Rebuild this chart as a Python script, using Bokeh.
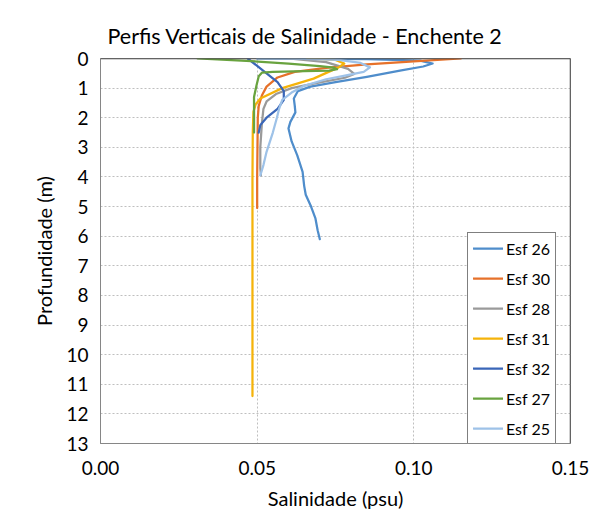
from bokeh.plotting import figure
from bokeh.models import Range1d, FixedTicker, PrintfTickFormatter, Legend, LegendItem, Span
from bokeh.embed import file_html
from bokeh.resources import INLINE

# ---- data (salinity psu, depth m) ----
series_names = ["Esf 26", "Esf 30", "Esf 28", "Esf 31", "Esf 32", "Esf 27", "Esf 25"]
series_colors = ["#4F8DCB", "#E6712A", "#9A9A9A", "#F5B30A", "#3A66B8", "#69A33F", "#9EC2E8"]

esf26_sal = [0.050, 0.085, 0.102, 0.106, 0.103, 0.096, 0.085, 0.075, 0.067, 0.063, 0.0617, 0.062,
             0.0622, 0.0606, 0.0600, 0.0610, 0.0628, 0.0645, 0.0650, 0.0655, 0.0672, 0.0686, 0.0693, 0.0700]
esf26_dep = [0.00, 0.02, 0.07, 0.17, 0.27, 0.40, 0.62, 0.80, 0.95, 1.10, 1.35, 1.60,
             1.82, 2.14, 2.36, 2.80, 3.27, 3.83, 4.30, 4.60, 5.00, 5.40, 5.80, 6.10]

esf30_sal = [0.115, 0.100, 0.085, 0.072, 0.062, 0.0565, 0.053, 0.0515, 0.0505, 0.0502, 0.0501, 0.0500, 0.0500]
esf30_dep = [0.00, 0.10, 0.20, 0.32, 0.45, 0.64, 0.95, 1.25, 1.60, 2.00, 3.00, 4.00, 5.05]

esf28_sal = [0.060, 0.072, 0.079, 0.081, 0.078, 0.068, 0.061, 0.056, 0.053, 0.052, 0.0515, 0.0510, 0.0510, 0.0512]
esf28_dep = [0.00, 0.12, 0.35, 0.52, 0.65, 0.85, 1.00, 1.20, 1.45, 1.70, 2.20, 3.00, 3.70, 3.95]

esf31_sal = [0.066, 0.075, 0.0778, 0.076, 0.068, 0.058, 0.051, 0.0495, 0.0488, 0.0486, 0.0485, 0.0485, 0.0485, 0.0485, 0.0485]
esf31_dep = [0.00, 0.05, 0.17, 0.30, 0.68, 1.00, 1.35, 1.55, 1.80, 2.50, 4.00, 6.00, 8.00, 10.00, 11.40]

esf32_sal = [0.047, 0.050, 0.053, 0.0565, 0.0585, 0.0585, 0.0565, 0.053, 0.051, 0.0505]
esf32_dep = [0.00, 0.25, 0.50, 0.80, 1.10, 1.40, 1.70, 2.00, 2.25, 2.50]

esf27_sal = [0.031, 0.045, 0.060, 0.070, 0.0745, 0.0755, 0.073, 0.065, 0.055, 0.0515, 0.0505, 0.0498, 0.0490, 0.0490, 0.0490]
esf27_dep = [0.00, 0.07, 0.17, 0.26, 0.31, 0.36, 0.41, 0.43, 0.45, 0.48, 0.60, 0.90, 1.30, 1.80, 2.50]

esf25_sal = [0.050, 0.065, 0.076, 0.083, 0.086, 0.084, 0.078, 0.072, 0.065, 0.061, 0.058, 0.057, 0.0563, 0.055, 0.053, 0.052, 0.051]
esf25_dep = [0.00, 0.01, 0.05, 0.15, 0.30, 0.45, 0.58, 0.70, 0.92, 1.15, 1.40, 1.70, 2.00, 2.50, 3.15, 3.60, 3.95]

series_sal = [esf26_sal, esf30_sal, esf28_sal, esf31_sal, esf32_sal, esf27_sal, esf25_sal]
series_dep = [esf26_dep, esf30_dep, esf28_dep, esf31_dep, esf32_dep, esf27_dep, esf25_dep]

x_ticks = [0.0, 0.05, 0.10, 0.15]
y_ticks = list(range(0, 14))

FONT = "Lato"

W, H = 596, 512
p = figure(width=W, height=H, output_backend="svg", toolbar_location=None,
           x_range=Range1d(0, 0.15), y_range=Range1d(13, 0),
           min_border_left=100, min_border_right=W - 570, min_border_top=58, min_border_bottom=H - 444)

p.title.text = "Perfis Verticais de Salinidade - Enchente 2"
p.title.text_font = FONT
p.title.text_font_size = "21.5px"
p.title.text_font_style = "normal"
p.title.text_color = "#000000"
p.title.align = "left"
p.title.offset = 7
p.title.standoff = 20

p.background_fill_color = "white"
p.border_fill_color = "white"
p.outline_line_color = "#868686"
p.outline_line_width = 1

# axes
p.xaxis.ticker = FixedTicker(ticks=x_ticks)
p.xaxis.formatter = PrintfTickFormatter(format="%.2f")
p.yaxis.ticker = FixedTicker(ticks=y_ticks)
for ax in (p.xaxis[0], p.yaxis[0]):
    ax.major_tick_line_color = None
    ax.minor_tick_line_color = None
    ax.major_tick_out = 0
    ax.major_tick_in = 0
    ax.axis_line_color = "#868686"
    ax.major_label_text_font = FONT
    ax.major_label_text_font_size = "19px"
    ax.major_label_text_color = "#000000"
    ax.axis_label_text_font = FONT
    ax.axis_label_text_font_size = "20px"
    ax.axis_label_text_font_style = "normal"
    ax.axis_label_text_color = "#000000"

p.xaxis.axis_label = "Salinidade (psu)"
p.xaxis.major_label_standoff = 17
p.xaxis.axis_label_standoff = 8
p.yaxis.axis_label = "Profundidade (m)"
p.yaxis.major_label_standoff = 12
p.yaxis.axis_label_standoff = 7

# grids
p.xgrid.ticker = FixedTicker(ticks=[0.05, 0.10])
p.ygrid.ticker = FixedTicker(ticks=list(range(1, 13)))
for g in (p.xgrid[0], p.ygrid[0]):
    g.grid_line_color = "#BFBFBF"
    g.grid_line_dash = "2 2"
    g.grid_line_width = 1

# dark top / right frame lines
p.add_layout(Span(location=0, dimension="width", line_color="#404040", line_width=1.5))
p.add_layout(Span(location=0.15, dimension="height", line_color="#404040", line_width=1.5))

items = []
for name, col, xs, ys in zip(series_names, series_colors, series_sal, series_dep):
    r = p.line(xs, ys, line_color=col, line_width=2.25, line_join="round", line_cap="round")
    items.append(LegendItem(label=name, renderers=[r]))

legend = Legend(items=items, location=(367, -1))
legend.glyph_width = 30
legend.glyph_height = 20
legend.label_height = 20
legend.spacing = 10
legend.padding = 5
legend.margin = 0
legend.label_standoff = 3
legend.label_text_font = FONT
legend.label_text_font_size = "16px"
legend.label_text_color = "#000000"
legend.border_line_color = "#000000"
legend.border_line_width = 1
legend.background_fill_alpha = 1.0
p.add_layout(legend)

open("out.html", "w").write(file_html(p, INLINE))
